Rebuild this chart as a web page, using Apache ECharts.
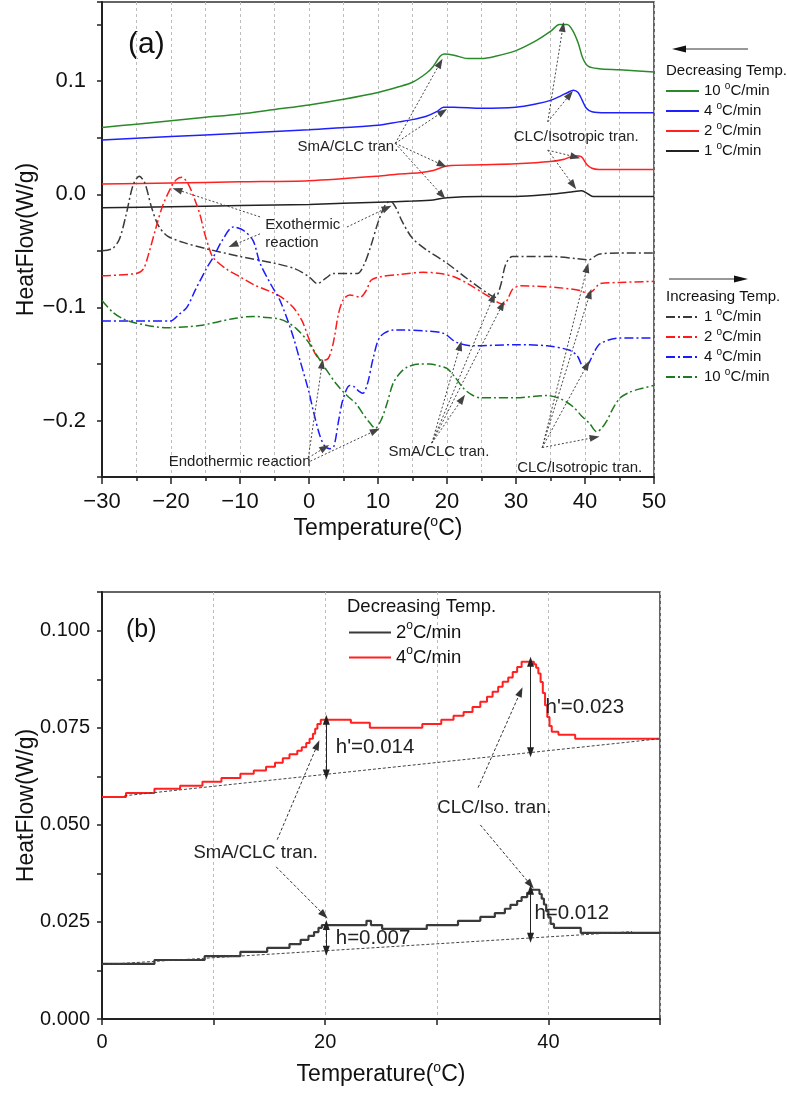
<!DOCTYPE html>
<html>
<head>
<meta charset="utf-8">
<title>DSC heat flow</title>
<script src="https://cdn.jsdelivr.net/npm/echarts/dist/echarts.min.js"></script>
<style>
  html, body { margin: 0; padding: 0; background: #fff; }
  #chart { width: 787px; height: 1095px; }
</style>
</head>
<body>
<div id="chart"></div>
<script>
var FONT = '"Liberation Sans", Arial, sans-serif';

// ---- panel (a): decreasing temperature (solid) ----
var dec10 = [[-30,0.059],[-25,0.062],[-20,0.065],[-15,0.068],[-10,0.071],[-5,0.075],[0,0.079],[5,0.084],[10,0.090],[13,0.095],[15,0.099],[17,0.107],[18,0.113],[19,0.122],[19.6,0.124],[21,0.123],[23,0.120],[25,0.120],[27,0.122],[30,0.127],[33,0.136],[35,0.144],[36.3,0.150],[37.4,0.150],[38.2,0.145],[39,0.134],[39.7,0.120],[40.5,0.113],[42,0.111],[45,0.110],[50,0.108]];
var dec4 = [[-30,0.048],[-20,0.051],[-10,0.054],[0,0.057],[5,0.059],[10,0.061],[13,0.064],[15,0.066],[17,0.069],[18.5,0.073],[19.5,0.077],[21,0.077],[25,0.076],[30,0.077],[33,0.080],[35,0.083],[36.5,0.087],[37.5,0.090],[38.3,0.092],[39,0.090],[39.6,0.083],[40.2,0.076],[41,0.073],[43,0.072],[50,0.072]];
var dec2 = [[-30,0.009],[-20,0.010],[-10,0.011],[0,0.012],[10,0.016],[13,0.018],[16,0.019],[18,0.021],[20,0.025],[25,0.026],[30,0.027],[35,0.029],[37,0.031],[38.5,0.034],[39.5,0.033],[40.3,0.026],[41,0.023],[42,0.022],[50,0.022]];
var dec1 = [[-30,-0.012],[-20,-0.011],[-10,-0.010],[0,-0.009],[10,-0.007],[15,-0.006],[18,-0.005],[20,-0.003],[25,-0.002],[30,-0.002],[35,0.000],[38,0.002],[39.5,0.003],[40.5,0.000],[41.2,-0.002],[50,-0.002]];

// ---- panel (a): increasing temperature (dash-dot) ----
var inc1 = [[-30,-0.050],[-28.5,-0.048],[-27.5,-0.040],[-26.5,-0.018],[-25.5,0.008],[-24.6,0.016],[-23.8,0.010],[-22.8,-0.012],[-21.8,-0.028],[-20.5,-0.037],[-18,-0.043],[-15,-0.048],[-10,-0.055],[-5,-0.061],[-2,-0.066],[0,-0.073],[1.2,-0.079],[2.5,-0.074],[3.5,-0.070],[7,-0.070],[8,-0.062],[9,-0.045],[10,-0.025],[11,-0.010],[11.8,-0.006],[12.6,-0.012],[13.5,-0.024],[15,-0.039],[17,-0.049],[20,-0.061],[23,-0.075],[26,-0.088],[27,-0.091],[27.8,-0.080],[28.5,-0.062],[29.5,-0.055],[35,-0.055],[39,-0.057],[40.5,-0.058],[42,-0.053],[45,-0.052],[50,-0.052]];
var inc2 = [[-30,-0.072],[-25,-0.070],[-24,-0.066],[-23.3,-0.054],[-22.2,-0.030],[-21.2,-0.010],[-20,0.006],[-19.2,0.013],[-18.4,0.015],[-17.5,0.009],[-16.6,-0.004],[-15.8,-0.018],[-15.2,-0.033],[-14.5,-0.047],[-13.9,-0.056],[-12,-0.066],[-10,-0.073],[-8,-0.080],[-6,-0.085],[-4,-0.091],[-2.3,-0.100],[-1,-0.112],[0,-0.128],[1,-0.142],[2,-0.147],[2.8,-0.145],[3.5,-0.132],[4.3,-0.105],[5,-0.093],[5.9,-0.089],[7.4,-0.091],[8.3,-0.085],[9,-0.076],[10.3,-0.073],[13,-0.071],[16.5,-0.069],[19,-0.070],[21,-0.073],[23,-0.079],[26.2,-0.091],[27.5,-0.096],[28.3,-0.097],[29,-0.090],[29.5,-0.084],[30.6,-0.081],[35,-0.082],[39.3,-0.085],[40.4,-0.088],[41.2,-0.085],[42.2,-0.079],[45,-0.078],[50,-0.077]];
var inc4 = [[-30,-0.112],[-25,-0.112],[-20.1,-0.112],[-18.8,-0.106],[-17.7,-0.100],[-16.5,-0.085],[-14.8,-0.065],[-13.9,-0.056],[-12.5,-0.040],[-11,-0.029],[-9.5,-0.032],[-8.1,-0.041],[-7.1,-0.061],[-5.5,-0.080],[-4.2,-0.094],[-2.5,-0.122],[-1.3,-0.147],[0,-0.175],[0.6,-0.191],[1.5,-0.212],[2.2,-0.222],[3,-0.225],[3.6,-0.223],[4.3,-0.200],[4.9,-0.182],[5.9,-0.169],[6.5,-0.170],[7.2,-0.174],[7.8,-0.176],[8.5,-0.167],[9.3,-0.145],[10.3,-0.126],[12.2,-0.120],[13.2,-0.120],[17,-0.121],[19.5,-0.123],[21.4,-0.131],[23.8,-0.134],[30,-0.133],[34.5,-0.134],[37.8,-0.138],[38.9,-0.143],[39.8,-0.153],[40.4,-0.151],[41.3,-0.140],[42.2,-0.132],[45.1,-0.127],[50,-0.127]];
var inc10 = [[-30,-0.094],[-28.5,-0.104],[-27,-0.110],[-25,-0.114],[-20.6,-0.118],[-15.8,-0.116],[-11,-0.110],[-8,-0.108],[-6.1,-0.109],[-4.5,-0.110],[-3.2,-0.113],[-1.8,-0.119],[-0.3,-0.129],[1.2,-0.143],[2.6,-0.156],[4,-0.168],[5.5,-0.178],[6.8,-0.185],[7.8,-0.194],[8.8,-0.202],[9.6,-0.207],[10.5,-0.199],[11.3,-0.185],[12.2,-0.167],[13.2,-0.158],[14.2,-0.153],[16,-0.150],[17.5,-0.150],[19,-0.152],[20,-0.154],[21.2,-0.162],[22.3,-0.171],[23.5,-0.177],[24.8,-0.180],[27,-0.180],[29.6,-0.180],[34.5,-0.178],[36.5,-0.181],[38.3,-0.188],[39.5,-0.196],[40.7,-0.203],[41.7,-0.210],[42.4,-0.207],[43.2,-0.200],[44,-0.190],[45.1,-0.180],[46.5,-0.175],[48,-0.172],[50,-0.169]];

// ---- panel (b): stepped curves, each point = start of a step ----
var cool2 = [[0,0.0142],[4.7,0.0152],[9.2,0.0162],[12.4,0.0173],[14.8,0.0183],[16.8,0.0193],[17.8,0.0204],[18.5,0.0214],[19,0.0224],[19.4,0.0235],[19.7,0.0242],[23.7,0.0253],[24.1,0.0242],[25.1,0.0232],[29.1,0.0242],[31.9,0.0253],[33.9,0.0263],[35.2,0.0273],[36.1,0.0284],[36.6,0.0294],[37.2,0.0304],[37.6,0.0314],[38.1,0.0325],[38.4,0.0333],[39.2,0.0322],[39.4,0.0310],[39.6,0.0295],[39.8,0.0278],[40.0,0.0262],[40.2,0.0245],[40.5,0.0235],[42.9,0.0222],[50,0.0222]];
var cool4 = [[0,0.0572],[2.15,0.0582],[4.7,0.0593],[7,0.0601],[9,0.0611],[10.7,0.0621],[12.4,0.0632],[13.6,0.0640],[14.7,0.0650],[15.5,0.0660],[16.2,0.0672],[16.8,0.0682],[17.5,0.0691],[17.9,0.0700],[18.3,0.0711],[18.6,0.0722],[18.9,0.0735],[19.1,0.0748],[19.3,0.0760],[19.6,0.0771],[22.3,0.0763],[24,0.0750],[28.7,0.0760],[30.4,0.0771],[31.5,0.0781],[32.4,0.0791],[33.2,0.0804],[33.9,0.0817],[34.5,0.0830],[35,0.0843],[35.5,0.0856],[35.9,0.0869],[36.4,0.0880],[36.8,0.0894],[37.2,0.0907],[37.6,0.0920],[38.7,0.0914],[38.9,0.0905],[39.1,0.0890],[39.3,0.0868],[39.5,0.0840],[39.7,0.0808],[39.9,0.0778],[40.1,0.0755],[40.3,0.0740],[40.9,0.0732],[42.4,0.0722],[50,0.0722]];

// ---- annotations: arrows [x1, y1, x2, y2], labels [x, y, text] ----
var arrowsA = [
  [12.5,0.045,19,0.116],[12.5,0.045,19.4,0.073],[12.5,0.045,19.3,0.026],[12.5,0.045,19.3,-0.001],
  [34.6,0.064,36.8,0.148],[34.6,0.064,37.8,0.088],[34.6,0.039,38.6,0.033],[34.6,0.039,38.3,0.008],
  [-7.1,-0.020,-19.1,0.004],[-7.1,-0.035,-11,-0.045],[5.5,-0.029,11.3,-0.012],
  [-0.1,-0.233,1.9,-0.150],[-0.1,-0.233,2.3,-0.224],[0.2,-0.236,9.6,-0.209],
  [17.8,-0.220,26.7,-0.091],[17.8,-0.220,28,-0.098],[17.8,-0.220,21.9,-0.134],[17.8,-0.220,22.2,-0.181],
  [33.8,-0.224,40.3,-0.065],[33.8,-0.224,40.7,-0.088],[33.8,-0.224,40.3,-0.151],[33.8,-0.224,41.4,-0.215]
];
var labelsA = [
  [-1.74,0.0416,'SmA/CLC tran.'],
  [29.6,0.0504,'CLC/Isotropic tran.'],
  [-6.4,-0.0354,'Exothermic\nreaction'],
  [-20.4,-0.237,'Endothermic reaction'],
  [11.45,-0.228,'SmA/CLC tran.'],
  [30.1,-0.2416,'CLC/Isotropic tran.']
];
var arrowsB = [[15.7,0.0462,19.3,0.0706],[15.6,0.0392,19.9,0.0268],[33.7,0.0596,37.5,0.0843],[33.9,0.050,38.4,0.0346]];
var baselinesB = [[2,0.0575,50,0.0722],[0,0.0140,47.5,0.0225]];
var heightBarsB = [[20.1,0.0771,0.0630],[38.4,0.0920,0.0687],[20.1,0.0242,0.0176],[38.4,0.0333,0.0209]];
var tranLabelsB = [[8.15,0.0428,'SmA/CLC tran.'],[30.0,0.0544,'CLC/Iso. tran.']];
var heightLabelsB = [[20.9,0.0699,"h'=0.014"],[39.7,0.0804,"h'=0.023"],[20.9,0.0209,'h=0.007'],[38.7,0.0273,'h=0.012']];

var legendRate = { d10: '10 ', d4: '4 ', d2: '2 ', d1: '1 ', i1: '1 ', i2: '2 ', i4: '4 ', i10: '10 ', b2: '2', b4: '4' };

function minusLabel(v) {
  return v < 0 ? '\u2212' + (-v) : '' + v;
}

function arrowPairs(list) {
  return list.map(function(a) {
    return [{ coord: [a[0], a[1]] }, { coord: [a[2], a[3]] }];
  });
}

function textPoints(list, size) {
  return list.map(function(t) {
    return { coord: [t[0], t[1]], value: 0, label: { formatter: t[2], fontSize: size } };
  });
}

function curve(name, data, color, dashDot, gi) {
  return {
    name: name, type: 'line', xAxisIndex: gi, yAxisIndex: gi,
    data: data, symbol: 'none', smooth: 0.3, silent: true,
    lineStyle: { color: color, width: 1.5, type: dashDot ? [9, 3, 2, 3] : 'solid' },
    itemStyle: { color: color }
  };
}

function stepCurve(name, data, color, width) {
  return {
    name: name, type: 'line', xAxisIndex: 1, yAxisIndex: 1,
    data: data, symbol: 'none', step: 'end', silent: true,
    lineStyle: { color: color, width: width },
    itemStyle: { color: color }
  };
}

var markText = {
  symbol: 'rect', symbolSize: 1, silent: true,
  itemStyle: { color: 'rgba(0,0,0,0)' },
  label: { show: true, position: 'right', distance: 0, color: '#222', fontFamily: FONT, lineHeight: 18 }
};

var s_d1 = curve('d1', dec1, '#222', false, 0);
s_d1.markLine = {
  silent: true, symbol: ['none', 'triangle'], symbolSize: [7, 10],
  label: { show: false },
  lineStyle: { color: '#444', width: 1, type: [2, 2] },
  data: arrowPairs(arrowsA)
};
s_d1.markPoint = Object.assign({}, markText, { data: textPoints(labelsA, 15) });

var s_b2 = stepCurve('b2', cool2, '#3a3a3a', 2.2);
s_b2.markLine = {
  silent: true, symbol: ['none', 'triangle'], symbolSize: [7, 10],
  label: { show: false },
  lineStyle: { color: '#333', width: 1, type: [3, 2] },
  data: arrowPairs(arrowsB).concat(baselinesB.map(function(b) {
    return [{ coord: [b[0], b[1]], symbol: 'none', lineStyle: { color: '#444', width: 1, type: [3, 2] } },
            { coord: [b[2], b[3]], symbol: 'none' }];
  }))
};
s_b2.markPoint = Object.assign({}, markText, { data: textPoints(tranLabelsB, 18.5) });

var s_b4 = stepCurve('b4', cool4, '#ff2020', 2);
s_b4.markLine = {
  silent: true, symbol: ['triangle', 'triangle'], symbolSize: [7, 10],
  label: { show: false },
  lineStyle: { color: '#222', width: 1, type: 'solid' },
  data: heightBarsB.map(function(h) {
    return [{ coord: [h[0], h[1]] }, { coord: [h[0], h[2]] }];
  })
};
s_b4.markPoint = Object.assign({}, markText, { data: textPoints(heightLabelsB, 20.5) });

var axisLineStyle = { show: true, onZero: false, lineStyle: { color: '#222', width: 2 } };
var tickStyle = { color: '#222', width: 1.5 };
var gridLine = { show: true, lineStyle: { color: '#bdbdbd', width: 1, type: [3, 3] } };

function nameStyle() {
  return {
    fontFamily: FONT, fontSize: 23, color: '#111', lineHeight: 28,
    rich: { s: { fontFamily: FONT, fontSize: 14, lineHeight: 16, verticalAlign: 'top', color: '#111' } }
  };
}

function legendBox(data, left, top, width, size, lh, supSize, supLh) {
  return {
    data: data, orient: 'vertical', left: left, top: top, padding: 0, itemGap: 0,
    itemWidth: width, itemHeight: 14, selectedMode: false,
    itemStyle: { opacity: 0 },
    formatter: function(name) { return legendRate[name] + '{s|o}C/min'; },
    textStyle: {
      fontFamily: FONT, fontSize: size, color: '#111', lineHeight: lh,
      rich: { s: { fontFamily: FONT, fontSize: supSize, lineHeight: supLh, verticalAlign: 'top', color: '#111' } }
    }
  };
}

var chart = echarts.init(document.getElementById('chart'), null, { renderer: 'canvas' });

var option = {
  animation: false,
  backgroundColor: '#fff',
  textStyle: { fontFamily: FONT },
  grid: [
    { left: 102, top: 2, width: 552, height: 475, show: true, borderColor: '#333', borderWidth: 1.5, outerBoundsMode: 'none' },
    { left: 102, top: 592, width: 558, height: 427, show: true, borderColor: '#333', borderWidth: 1.5, outerBoundsMode: 'none' }
  ],
  xAxis: [
    {
      gridIndex: 0, type: 'value', min: -30, max: 50, interval: 10,
      axisLine: axisLineStyle,
      axisTick: { show: true, inside: false, length: 7, lineStyle: tickStyle },
      minorTick: { show: true, splitNumber: 2, length: 4, lineStyle: tickStyle },
      splitLine: gridLine, minorSplitLine: gridLine,
      axisLabel: { fontFamily: FONT, fontSize: 22, color: '#111', margin: 14, formatter: minusLabel },
      name: 'Temperature({s|o}C)', nameLocation: 'middle', nameGap: 38, nameMoveOverlap: false, nameTextStyle: nameStyle()
    },
    {
      gridIndex: 1, type: 'value', min: 0, max: 50, interval: 10,
      axisLine: axisLineStyle,
      axisTick: { show: true, inside: false, length: 6, lineStyle: tickStyle },
      splitLine: gridLine,
      axisLabel: {
        fontFamily: FONT, fontSize: 20, color: '#111', margin: 13,
        formatter: function(v) { return v % 20 === 0 ? '' + v : ''; }
      },
      name: 'Temperature({s|o}C)', nameLocation: 'middle', nameGap: 42, nameMoveOverlap: false, nameTextStyle: nameStyle()
    }
  ],
  yAxis: [
    {
      gridIndex: 0, type: 'value', min: -0.25, max: 0.17, interval: 0.05,
      axisLine: axisLineStyle,
      axisTick: { show: true, inside: false, length: 5, lineStyle: tickStyle },
      splitLine: { show: false },
      axisLabel: {
        fontFamily: FONT, fontSize: 22, color: '#111', margin: 16,
        formatter: function(v) {
          var k = Math.round(v * 10);
          if (Math.abs(v * 10 - k) > 1e-6) return '';
          return (k < 0 ? '\u2212' : '') + (Math.abs(k) / 10).toFixed(1);
        }
      },
      name: 'HeatFlow(W/g)', nameLocation: 'middle', nameGap: 61, nameMoveOverlap: false, nameTextStyle: nameStyle()
    },
    {
      gridIndex: 1, type: 'value', min: 0, max: 0.11, interval: 0.0125,
      axisLine: axisLineStyle,
      axisTick: { show: true, inside: false, length: 5, lineStyle: tickStyle },
      splitLine: { show: false },
      axisLabel: {
        fontFamily: FONT, fontSize: 20, color: '#111', margin: 12,
        formatter: function(v) {
          var k = v / 0.025;
          if (Math.abs(k - Math.round(k)) > 1e-6) return '';
          return v.toFixed(3);
        }
      },
      name: 'HeatFlow(W/g)', nameLocation: 'middle', nameGap: 61, nameMoveOverlap: false, nameTextStyle: nameStyle()
    }
  ],
  legend: [
    legendBox(['d10', 'd4', 'd2', 'd1'], 665, 81, 33, 15, 20, 10, 12),
    legendBox(['i1', 'i2', 'i4', 'i10'], 665, 307, 33, 15, 20, 10, 12),
    legendBox(['b2', 'b4'], 348, 620, 42, 18.5, 25, 12, 16)
  ],
  graphic: [
    { type: 'text', x: 128, y: 45, style: { text: '(a)', fontFamily: FONT, fontSize: 30, fill: '#111', verticalAlign: 'middle' } },
    { type: 'text', x: 126, y: 630, style: { text: '(b)', fontFamily: FONT, fontSize: 25, fill: '#111', verticalAlign: 'middle' } },
    { type: 'text', x: 666, y: 71, style: { text: 'Decreasing Temp.', fontFamily: FONT, fontSize: 15, fill: '#111', verticalAlign: 'middle' } },
    { type: 'text', x: 666, y: 297, style: { text: 'Increasing Temp.', fontFamily: FONT, fontSize: 15, fill: '#111', verticalAlign: 'middle' } },
    { type: 'text', x: 347, y: 607, style: { text: 'Decreasing Temp.', fontFamily: FONT, fontSize: 18.5, fill: '#111', verticalAlign: 'middle' } },
    { type: 'line', shape: { x1: 684, y1: 49, x2: 748, y2: 49 }, style: { stroke: '#333', lineWidth: 1 } },
    { type: 'polygon', shape: { points: [[672, 49], [686, 45.5], [686, 52.5]] }, style: { fill: '#111' } },
    { type: 'line', shape: { x1: 669, y1: 279, x2: 736, y2: 279 }, style: { stroke: '#333', lineWidth: 1 } },
    { type: 'polygon', shape: { points: [[748, 279], [734, 275.5], [734, 282.5]] }, style: { fill: '#111' } }
  ],
  series: [
    curve('d10', dec10, '#2a8a2a', false, 0),
    curve('d4', dec4, '#2020ff', false, 0),
    curve('d2', dec2, '#ff2020', false, 0),
    s_d1,
    curve('i1', inc1, '#3a3a3a', true, 0),
    curve('i2', inc2, '#ff1a1a', true, 0),
    curve('i4', inc4, '#1a1aff', true, 0),
    curve('i10', inc10, '#1e7a1e', true, 0),
    s_b2,
    s_b4
  ]
};

chart.setOption(option);
</script>
</body>
</html>
